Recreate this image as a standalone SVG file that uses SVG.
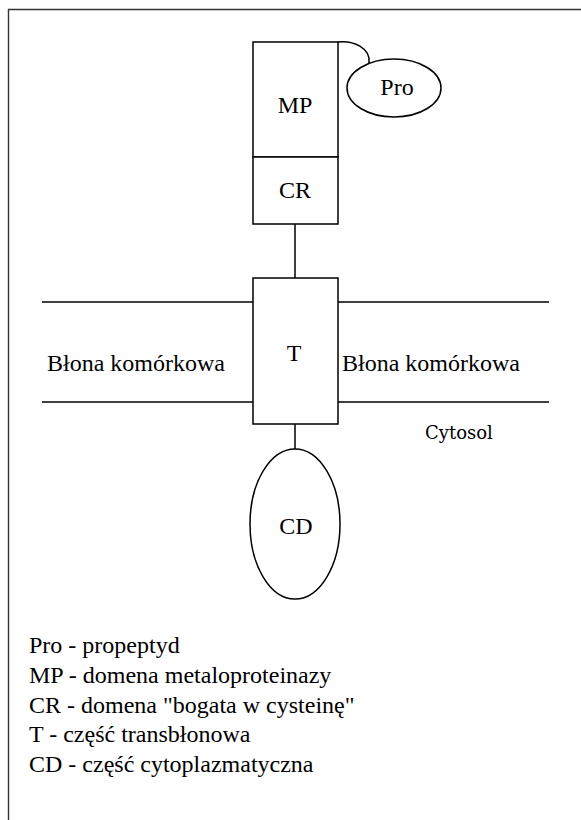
<svg xmlns="http://www.w3.org/2000/svg" width="581" height="820" viewBox="0 0 581 820">
<style>
.s{fill:none;stroke:#000;stroke-width:1.5}
.f{fill:#fff;stroke:#000;stroke-width:1.5}
.t{font-family:"Liberation Serif","Times New Roman",serif;font-size:24px;fill:#000}
.c{text-anchor:middle}
</style>
<rect width="581" height="820" fill="#fff"/>
<g id="frame">
<path d="M8.5,820 V9.5 H581" fill="none" stroke="#333" stroke-width="1.4"/>
</g>
<g id="connectors">
<line class="s" x1="295" y1="224" x2="295" y2="278"/>
<line class="s" x1="295" y1="424" x2="295" y2="449"/>
<path class="s" d="M338,42 C353,40 371,48 369,63"/>
</g>
<g id="membrane">
<line class="s" x1="42" y1="302" x2="253" y2="302"/>
<line class="s" x1="42" y1="402" x2="253" y2="402"/>
<line class="s" x1="338" y1="302" x2="549" y2="302"/>
<line class="s" x1="338" y1="402" x2="549" y2="402"/>
<text class="t" x="47" y="371">Błona komórkowa</text>
<text class="t" x="342" y="371">Błona komórkowa</text>
</g>
<g id="MP">
<rect class="f" x="253" y="42" width="85" height="115"/>
<text class="t c" x="295" y="113">MP</text>
</g>
<g id="CR">
<rect class="f" x="253" y="157" width="85" height="67"/>
<text class="t c" x="295" y="198">CR</text>
</g>
<g id="Pro">
<ellipse class="f" cx="394" cy="88" rx="47" ry="29"/>
<text class="t c" x="397" y="95">Pro</text>
</g>
<g id="T">
<rect class="f" x="253" y="278" width="85" height="146"/>
<text class="t c" x="294" y="361">T</text>
</g>
<g id="CD">
<ellipse class="f" cx="295" cy="524" rx="45" ry="75"/>
<text class="t c" x="296" y="534">CD</text>
</g>
<text id="cytosol" x="425" y="439" font-family="DejaVu Serif, serif" font-size="18">Cytosol</text>
<g id="legend" class="t">
<text x="29" y="653">Pro - propeptyd</text>
<text x="29" y="683">MP - domena metaloproteinazy</text>
<text x="29" y="713">CR - domena "bogata w cysteinę"</text>
<text x="29" y="742">T - część transbłonowa</text>
<text x="29" y="772">CD - część cytoplazmatyczna</text>
</g>
</svg>
